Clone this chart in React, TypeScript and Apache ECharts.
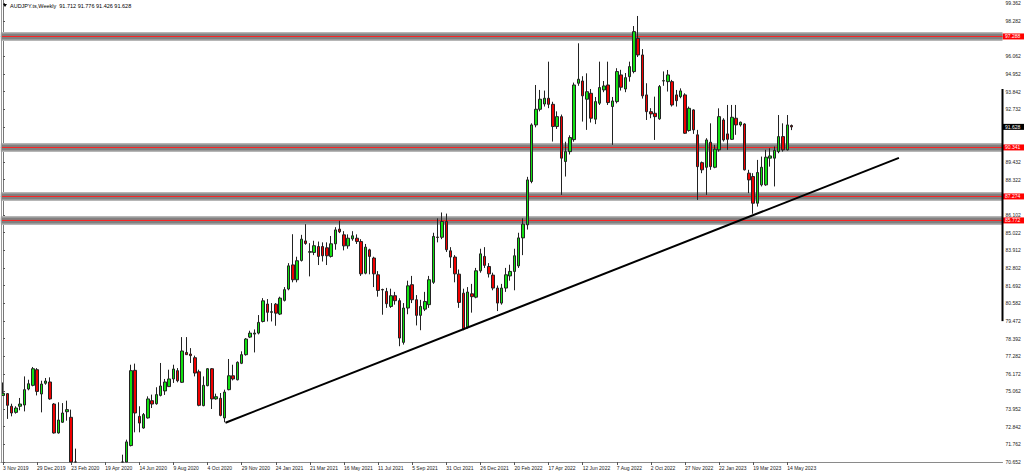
import React, { useEffect, useRef } from "react";
import * as echarts from "echarts";

const chartTitle = "AUDJPY.ts,Weekly  91.712 91.776 91.426 91.628";

const dateTickLabels = [
  "3 Nov 2019", "29 Dec 2019", "23 Feb 2020", "19 Apr 2020", "14 Jun 2020", "9 Aug 2020",
  "4 Oct 2020", "29 Nov 2020", "24 Jan 2021", "21 Mar 2021", "16 May 2021", "11 Jul 2021",
  "5 Sep 2021", "31 Oct 2021", "26 Dec 2021", "20 Feb 2022", "17 Apr 2022", "12 Jun 2022",
  "7 Aug 2022", "2 Oct 2022", "27 Nov 2022", "22 Jan 2023", "19 Mar 2023", "14 May 2023",
];
const weeksPerDateLabel = 8;

const priceTickLabels = [
  "70.652", "71.762", "72.842", "73.952", "75.062", "76.172", "77.282", "78.392", "79.472",
  "80.582", "81.692", "82.802", "83.912", "85.022", "86.102", "87.212", "88.322", "89.432",
  "90.542", "91.622", "92.732", "93.842", "94.952", "96.062", "97.172", "98.282", "99.362",
];
const priceMin = 70.652;
const priceStep = 1.1042;
const priceMax = 99.57;

// weekly candles: [open, close, low, high]; null = below the visible price range
const weeklyOHLC: (number[] | null)[] = [
  [74.82, 74.95, 74.78, 75.63], [74.93, 74.2, 73.35, 74.97], [74.14, 73.72, 73.51, 74.3],
  [73.76, 74.03, 73.68, 74.14], [74.14, 74.28, 73.89, 74.66], [74.22, 75.18, 73.82, 76.01],
  [75.22, 75.55, 75.14, 75.8], [75.45, 76.49, 75.39, 76.6], [76.43, 75.07, 74.82, 76.53],
  [74.91, 75.53, 73.76, 75.74], [75.58, 75.72, 75.49, 75.91], [75.66, 74.6, 74.55, 75.95],
  [74.28, 72.47, 72.43, 74.34], [72.47, 73.28, 72.43, 74.39], [73.14, 73.72, 73.1, 74.34],
  [73.8, 73.93, 73.24, 74.49], [73.45, 70.3, 70.1, 73.93], [70.3, 68.9, 68.0, 71.49],
  null, null, null, null, null, null, null, null, null, null,
  [68.6, 70.2, 68.3, 71.11], [70.2, 71.91, 69.9, 72.05],
  [71.68, 76.37, 71.63, 76.74], [76.39, 73.72, 72.51, 76.81], [73.51, 73.09, 72.51, 74.14],
  [72.78, 73.62, 72.74, 73.72], [73.41, 74.6, 73.37, 74.76], [74.49, 74.28, 74.03, 74.87],
  [74.3, 74.87, 74.24, 75.33], [74.82, 75.41, 74.76, 76.85], [75.1, 75.66, 74.85, 75.85],
  [75.37, 75.85, 75.35, 76.43], [75.85, 76.47, 75.6, 76.74], [76.37, 75.74, 75.64, 76.53],
  [75.64, 77.6, 75.6, 78.47], [77.51, 77.37, 77.35, 78.47], [77.41, 77.31, 76.85, 77.78],
  [77.18, 76.22, 76.01, 77.31], [76.3, 74.2, 74.14, 76.43], [74.18, 75.45, 74.14, 76.01],
  [75.43, 76.49, 75.39, 76.53], [76.49, 74.6, 73.97, 76.53], [74.6, 74.74, 74.55, 74.93],
  [74.64, 73.57, 73.51, 74.97], [73.41, 75.03, 73.14, 75.18], [75.18, 76.05, 75.14, 77.1],
  [76.05, 75.85, 75.76, 76.74], [75.8, 76.89, 75.76, 76.95], [76.83, 77.37, 76.78, 77.58],
  [77.37, 78.35, 77.31, 78.41], [78.47, 78.72, 78.41, 78.87], [78.66, 78.72, 77.51, 78.95],
  [78.72, 79.39, 78.64, 79.85], [79.45, 80.74, 79.39, 80.91], [80.54, 80.02, 79.45, 80.85],
  [80.02, 80.06, 79.45, 80.6], [80.53, 79.97, 79.18, 80.6], [79.91, 80.91, 79.85, 81.0],
  [80.77, 81.44, 80.7, 81.6], [81.48, 82.93, 81.4, 83.1], [82.99, 82.06, 81.9, 84.91],
  [82.06, 83.25, 81.9, 83.5], [83.27, 84.6, 83.2, 84.87], [84.49, 84.33, 84.25, 85.54],
  [83.78, 83.82, 82.27, 84.35], [83.77, 84.19, 83.6, 84.5], [84.14, 83.52, 82.98, 84.45],
  [84.14, 83.56, 83.2, 84.4], [84.06, 83.56, 82.98, 84.4], [83.52, 84.31, 83.45, 84.8],
  [84.31, 85.18, 83.94, 85.35], [85.23, 85.06, 84.98, 85.75], [84.87, 84.18, 83.9, 85.1],
  [84.18, 84.66, 84.0, 84.9], [84.62, 84.81, 84.5, 85.1], [84.66, 84.45, 84.3, 84.9],
  [84.45, 82.43, 82.3, 84.6], [82.47, 84.1, 82.4, 84.3], [83.93, 83.52, 82.4, 84.0],
  [83.42, 82.43, 81.6, 83.5], [82.37, 81.39, 81.0, 82.6], [81.45, 81.42, 79.87, 81.5],
  [81.33, 80.56, 80.3, 81.55], [80.39, 81.06, 80.3, 81.5], [81.06, 80.75, 80.5, 81.3],
  [80.75, 78.41, 77.9, 80.9], [78.14, 80.29, 78.0, 80.6], [80.29, 81.68, 79.9, 82.0],
  [81.75, 80.81, 80.6, 82.3], [80.81, 79.83, 79.2, 81.1], [79.83, 80.39, 78.9, 80.8],
  [80.22, 80.7, 80.1, 81.3], [80.5, 82.06, 80.3, 82.3], [81.9, 84.77, 81.8, 85.0],
  [84.73, 84.71, 84.4, 85.9], [84.72, 85.71, 84.6, 86.27], [85.71, 83.94, 83.8, 86.2],
  [83.87, 83.48, 82.8, 84.1], [83.48, 82.43, 81.9, 83.6], [82.41, 80.64, 80.3, 82.7],
  [81.22, 78.97, 78.9, 81.5], [79.1, 81.29, 79.0, 81.6], [81.18, 81.0, 80.0, 81.8],
  [80.97, 82.62, 80.9, 82.8], [82.62, 83.68, 82.5, 84.0], [83.52, 82.96, 82.8, 84.1],
  [82.89, 82.43, 82.2, 83.1], [82.35, 81.54, 81.4, 82.5], [81.54, 80.6, 80.1, 81.7],
  [80.6, 81.54, 80.5, 81.8], [81.54, 82.37, 81.3, 82.8], [82.3, 82.58, 82.0, 83.0],
  [82.58, 83.56, 81.4, 84.0], [82.93, 84.68, 82.8, 85.0], [84.68, 85.54, 83.6, 85.9],
  [85.5, 88.31, 85.2, 88.5], [88.21, 91.75, 88.1, 91.85], [91.75, 92.73, 91.6, 94.25],
  [92.73, 93.36, 92.6, 93.94], [93.06, 93.42, 92.9, 93.9], [93.42, 93.04, 92.8, 95.71],
  [93.04, 91.65, 90.71, 93.2], [91.65, 92.27, 91.5, 92.6], [92.27, 89.67, 87.37, 92.4],
  [89.46, 90.08, 88.52, 90.7], [90.08, 90.96, 89.9, 91.1], [90.83, 94.25, 90.7, 94.4],
  [94.36, 94.61, 94.2, 96.86], [94.5, 93.57, 91.96, 94.8], [93.36, 93.83, 91.44, 94.98],
  [93.73, 92.17, 91.9, 94.0], [92.11, 93.21, 91.8, 93.5], [93.11, 94.09, 93.0, 95.71],
  [93.94, 94.19, 93.8, 94.5], [94.25, 93.15, 93.0, 95.71], [92.9, 93.25, 90.5, 93.5],
  [93.21, 95.09, 93.1, 95.3], [94.88, 94.11, 93.9, 95.2], [94.0, 94.71, 93.8, 95.0],
  [94.77, 95.4, 94.46, 95.71], [95.09, 97.59, 94.98, 97.94], [97.17, 96.13, 96.0, 98.57],
  [96.13, 93.57, 93.4, 96.5], [93.63, 92.58, 92.06, 94.36], [92.58, 92.44, 92.17, 92.8],
  [92.48, 92.27, 90.81, 93.52], [92.13, 94.15, 92.07, 94.25], [94.5, 94.52, 94.2, 95.1],
  [94.46, 94.88, 93.84, 95.19], [94.46, 93.0, 92.9, 94.57], [93.63, 93.27, 92.9, 93.94],
  [93.52, 93.88, 93.42, 94.04], [93.63, 91.23, 91.19, 93.73], [91.4, 92.79, 91.33, 92.9],
  [92.69, 91.44, 91.19, 92.73], [91.13, 89.14, 87.06, 91.44], [89.39, 88.94, 88.73, 89.46],
  [89.1, 90.81, 87.37, 90.92], [90.67, 89.14, 88.94, 91.85], [89.1, 90.23, 89.04, 90.5],
  [90.19, 92.27, 90.08, 92.79], [92.06, 90.81, 90.71, 92.17], [91.19, 90.85, 90.19, 93.0],
  [90.85, 92.23, 90.81, 93.0], [92.17, 91.75, 91.13, 93.0], [91.75, 91.92, 91.65, 91.96],
  [91.81, 88.94, 88.9, 91.85], [88.73, 88.31, 87.48, 88.94], [88.52, 86.85, 86.19, 88.73],
  [86.85, 88.77, 86.64, 89.56], [88.0, 89.1, 87.9, 89.77], [88.0, 89.73, 87.94, 90.19],
  [89.67, 89.81, 89.14, 90.29], [89.67, 90.15, 87.9, 90.4], [90.08, 91.02, 89.98, 92.37],
  [91.02, 90.19, 90.08, 91.85], [90.19, 91.75, 90.15, 92.37], [91.712, 91.628, 91.426, 91.776],
];

const horizontalLevels = [97.288, 90.341, 87.274, 85.772];
const lastPrice = 91.628;
// trend line anchors: [week index, price]
const trendLine = [
  [52.2, 73.11],
  [210.2, 89.69],
];
// price span marked in black on the price scale
const scaleMarker = [94.0, 79.47];
const slotCount = 235;

const FONT = "Liberation Sans";

export default function App() {
  const ref = useRef<HTMLDivElement>(null);

  useEffect(() => {
    document.body.style.margin = "0";
    if (!ref.current) return;
    const chart = echarts.init(ref.current, undefined, { renderer: "svg" });

    const categories = Array.from({ length: slotCount }, (_, i) => String(i));
    const showDateTick = (idx: number) =>
      idx % weeksPerDateLabel === 0 && idx / weeksPerDateLabel < dateTickLabels.length;

    // the chart window cuts every candle at the bottom of the price scale
    const candleData = weeklyOHLC.map((d) =>
      d ? d.map((v) => Math.max(v, priceMin)) : ["-", "-", "-", "-"]
    );

    const tagged = [...horizontalLevels, lastPrice];

    const bandSeries: any[] = [];
    horizontalLevels.forEach((lv) => {
      const line = [[-0.5, lv], [slotCount - 0.5, lv]];
      bandSeries.push({
        type: "line", xAxisIndex: 1, yAxisIndex: 0, data: line, symbol: "none",
        silent: true, z: 1, lineStyle: { color: "#b6b6b6", width: 9 },
      });
      bandSeries.push({
        type: "line", xAxisIndex: 1, yAxisIndex: 0, data: line, symbol: "none",
        silent: true, z: 2, lineStyle: { color: "#808080", width: 6 },
      });
      bandSeries.push({
        type: "line", xAxisIndex: 1, yAxisIndex: 0, data: line, symbol: "none",
        silent: true, z: 3, lineStyle: { color: "#ff2020", width: 1 },
      });
    });

    chart.setOption({
      animation: false,
      backgroundColor: "#ffffff",
      textStyle: { fontFamily: FONT },
      grid: { left: -1.4, right: 21.5, top: 0, bottom: 13, containLabel: false },
      xAxis: [
        {
          type: "category",
          data: categories,
          boundaryGap: true,
          axisLine: { show: true, lineStyle: { color: "#8a8a8a", width: 1 } },
          axisTick: {
            show: true,
            alignWithLabel: true,
            length: 3,
            interval: (idx: number) => showDateTick(idx),
            lineStyle: { color: "#555" },
          },
          axisLabel: {
            interval: (idx: number) => showDateTick(idx),
            formatter: (_v: string, idx: number) =>
              showDateTick(idx) ? dateTickLabels[idx / weeksPerDateLabel] : "",
            fontSize: 5,
            fontFamily: FONT,
            color: "#222",
            align: "left",
            margin: 3,
          },
          splitLine: { show: false },
        },
        {
          type: "value",
          min: -0.5,
          max: slotCount - 0.5,
          show: false,
        },
      ],
      yAxis: {
        type: "value",
        position: "right",
        min: priceMin,
        max: priceMax,
        interval: priceStep,
        axisLine: { show: true, lineStyle: { color: "#777", width: 1 } },
        axisTick: { show: true, length: 2, lineStyle: { color: "#555" } },
        axisLabel: {
          fontSize: 5,
          fontFamily: FONT,
          color: "#222",
          margin: 3,
          showMaxLabel: false,
          formatter: (v: number) => {
            const idx = Math.round((v - priceMin) / priceStep);
            if (Math.abs(v - (priceMin + idx * priceStep)) > 0.01) return "";
            // labels hidden under a price tag
            if (tagged.some((t) => Math.abs(t - v) < 0.25)) return "";
            return priceTickLabels[idx] ?? "";
          },
        },
        splitLine: { show: false },
      },
      series: [
        ...bandSeries,
        {
          type: "candlestick",
          xAxisIndex: 0,
          yAxisIndex: 0,
          data: candleData,
          barWidth: 3,
          clip: true,
          z: 5,
          itemStyle: {
            color: "#12e012",
            color0: "#f00000",
            borderColor: "#222",
            borderColor0: "#222",
            borderWidth: 1,
          },
        },
        {
          type: "line",
          xAxisIndex: 1,
          yAxisIndex: 0,
          data: trendLine,
          symbol: "none",
          silent: true,
          z: 6,
          lineStyle: { color: "#000", width: 2 },
        },
      ],
    });

    const yPx = (v: number) => chart.convertToPixel({ yAxisIndex: 0 } as any, v) as number;
    const axisX = 1024 - 21.5;
    const priceTag = (value: number, bg: string) => {
      const y = yPx(value);
      return {
        type: "group",
        z: 100,
        children: [
          {
            type: "rect",
            shape: { x: axisX, y: y - 3, width: 21.5, height: 6 },
            style: { fill: bg },
          },
          {
            type: "text",
            x: axisX + 2.5,
            y: y,
            style: {
              text: value.toFixed(3),
              fill: "#ffffff",
              fontSize: 5,
              fontFamily: FONT,
              verticalAlign: "middle",
            },
          },
        ],
      };
    };

    chart.setOption({
      graphic: [
        {
          type: "line",
          shape: { x1: 1.5, y1: 0, x2: 1.5, y2: 462 },
          style: { stroke: "#9a9a9a", lineWidth: 1 },
          z: 90,
        },
        {
          type: "line",
          shape: { x1: axisX, y1: yPx(scaleMarker[0]), x2: axisX, y2: yPx(scaleMarker[1]) },
          style: { stroke: "#000", lineWidth: 2 },
          z: 90,
        },
        {
          type: "polygon",
          shape: { points: [[3, 4], [7, 4], [5, 7]] },
          style: { fill: "#000" },
          z: 100,
        },
        {
          type: "text",
          x: 10,
          y: 5.5,
          style: {
            text: chartTitle,
            fill: "#000",
            fontSize: 5.5,
            fontFamily: FONT,
            verticalAlign: "middle",
          },
          z: 100,
        },
        ...horizontalLevels.map((lv) => priceTag(lv, "#ff0000")),
        priceTag(lastPrice, "#000000"),
      ],
    });

    return () => chart.dispose();
  }, []);

  return <div ref={ref} style={{ width: 1024, height: 475 }} />;
}
